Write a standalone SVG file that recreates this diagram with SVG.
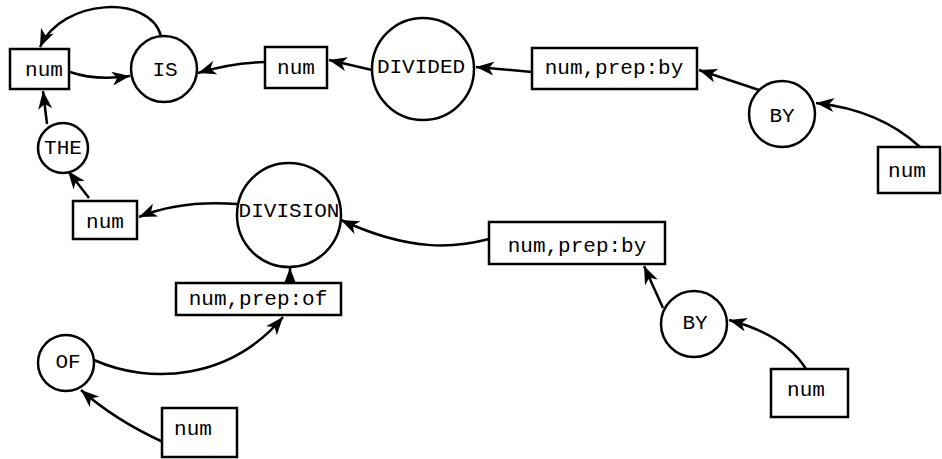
<svg xmlns="http://www.w3.org/2000/svg" width="942" height="459" viewBox="0 0 942 459">
<defs>
<style>
.n rect,.n circle{fill:#fff;stroke:#000;stroke-width:2.5}
.n text{font-family:"Liberation Mono","DejaVu Sans Mono",monospace;font-size:21px;fill:#000;text-anchor:middle;dominant-baseline:central}
.e path{fill:none;stroke:#000;stroke-width:2.5;marker-end:url(#ah)}
</style>
<marker id="ah" markerUnits="userSpaceOnUse" markerWidth="20" markerHeight="14" refX="18" refY="7" orient="auto">
<path d="M0,0 L18,7 L0,14 L5,7 z" fill="#000"/>
</marker>
</defs>
<rect width="942" height="459" fill="#fff"/>
<g class="e" id="connectors">
<path d="M161 36 C150 -6 62 -2 40 47"/>
<path d="M70 72 Q96 81 130 76"/>
<path d="M47 124 L43 91"/>
<path d="M265 62 Q230 63 198 73"/>
<path d="M372 70 L329 60"/>
<path d="M532 72 L476 67"/>
<path d="M759 90 L699 70"/>
<path d="M920 147 Q880 110 816 103"/>
<path d="M237 204 Q180 200 139 217"/>
<path d="M89 198 L68 171"/>
<path d="M290 283 L290 268"/>
<path d="M489 239 C455 248 410 252 341 220"/>
<path d="M663 308 L644 266"/>
<path d="M806 369 Q785 335 729 320"/>
<path d="M94 360 C150 385 230 380 283 317"/>
<path d="M163 442 Q115 420 81 390"/>
</g>
<g class="n" id="n_num1"><rect x="10" y="49" width="59" height="40"/><text x="44" y="70">num</text></g>
<g class="n" id="n_is"><circle cx="164" cy="69" r="33"/><text x="165" y="70">IS</text></g>
<g class="n" id="n_num2"><rect x="265" y="47" width="62" height="41"/><text x="296" y="68">num</text></g>
<g class="n" id="n_divided"><circle cx="423" cy="69" r="51"/><text x="421" y="67">DIVIDED</text></g>
<g class="n" id="n_numby1"><rect x="532" y="48" width="165" height="41"/><text x="614" y="68">num,prep:by</text></g>
<g class="n" id="n_by1"><circle cx="782" cy="114" r="33"/><text x="782" y="116">BY</text></g>
<g class="n" id="n_num3"><rect x="878" y="147" width="62" height="46"/><text x="907" y="171">num</text></g>
<g class="n" id="n_the"><circle cx="63" cy="148" r="25"/><text x="63" y="148">THE</text></g>
<g class="n" id="n_num4"><rect x="73" y="201" width="64" height="38"/><text x="105" y="222">num</text></g>
<g class="n" id="n_division"><circle cx="289" cy="215" r="52"/><text x="289" y="211">DIVISION</text></g>
<g class="n" id="n_numby2"><rect x="489" y="222" width="176" height="42"/><text x="577" y="246">num,prep:by</text></g>
<g class="n" id="n_numof"><rect x="176" y="283" width="165" height="32"/><text x="258" y="299">num,prep:of</text></g>
<g class="n" id="n_by2"><circle cx="694" cy="324" r="33"/><text x="695" y="323">BY</text></g>
<g class="n" id="n_num5"><rect x="771" y="369" width="77" height="48"/><text x="806" y="390">num</text></g>
<g class="n" id="n_of"><circle cx="66" cy="363" r="28"/><text x="68" y="362">OF</text></g>
<g class="n" id="n_num6"><rect x="162" y="408" width="75" height="49"/><text x="193" y="429">num</text></g>
</svg>
